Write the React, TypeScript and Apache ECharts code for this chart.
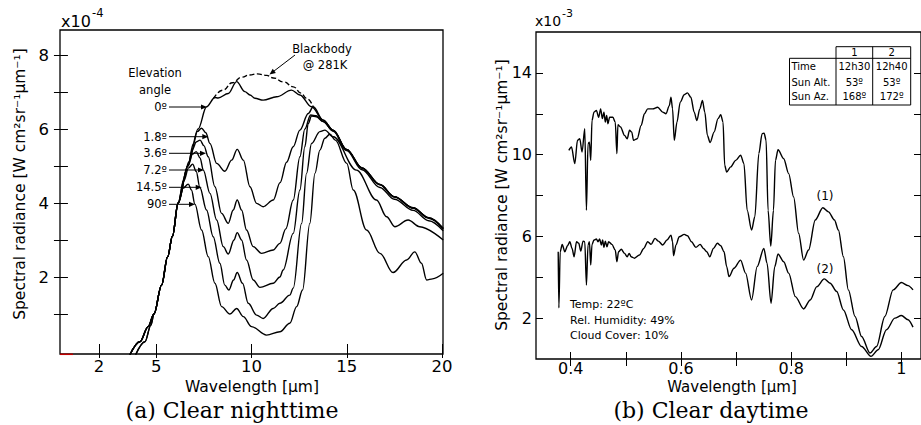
import React, { useEffect, useRef } from "react";
import * as echarts from "echarts";

// ---------- Panel (a): clear nighttime, units x1e-4 ----------
const nightXTicks = [2, 5, 10, 15, 20];
const nightYTicks = [1, 2, 3, 4, 5, 6, 7, 8];
const nightYLabels = [2, 4, 6, 8];

const nightBlackbody: [number, number][] = [
  [8.0, 6.82], [8.5, 7.05], [9.0, 7.25], [9.48, 7.4], [9.9, 7.46], [10.3, 7.49], [10.8, 7.45],
  [11.14, 7.38], [11.7, 7.27], [12.19, 7.14], [12.6, 6.97], [12.89, 6.83], [13.24, 6.6],
];

const night0: [number, number][] = [
  [3.62, -0.1], [4.14, 0.25], [4.58, 0.66], [4.88, 1.0], [5.28, 1.78], [5.6, 2.55], [5.85, 3.1],
  [6.15, 4.0], [6.66, 5.0], [7.2, 6.0], [7.64, 6.6], [8.08, 6.85], [8.25, 6.84], [8.78, 6.96],
  [9.22, 7.28], [9.65, 7.01], [9.92, 6.92], [10.18, 6.83], [10.61, 6.78], [11.32, 6.87],
  [12.1, 7.05], [12.54, 6.92], [13.15, 6.6], [13.76, 6.24], [14.29, 5.97], [14.99, 5.45],
  [15.8, 4.95], [16.74, 4.5], [17.5, 4.17], [18.48, 3.87], [19.3, 3.6], [20.06, 3.31],
];

const night18: [number, number][] = [
  [3.62, -0.1], [4.14, 0.25], [4.58, 0.66], [4.88, 1.0], [5.28, 1.78], [5.6, 2.55], [5.85, 3.1],
  [6.15, 4.0], [6.66, 5.0], [6.95, 5.6], [7.15, 5.93], [7.38, 6.02], [7.6, 5.9], [7.82, 5.61],
  [8.17, 5.07], [8.6, 4.86], [8.96, 5.16], [9.25, 5.45], [9.57, 5.16], [9.92, 4.44], [10.27, 3.99],
  [10.61, 3.9], [11.14, 4.08], [11.5, 4.55], [11.84, 5.1], [12.19, 5.52], [12.54, 5.97],
  [12.98, 6.42], [13.24, 6.6], [13.76, 6.24], [14.29, 5.97], [14.99, 5.45], [15.8, 4.95],
  [16.74, 4.5], [17.5, 4.17], [18.48, 3.87], [19.3, 3.6], [20.06, 3.31],
];

const night36: [number, number][] = [
  [3.62, -0.1], [4.14, 0.25], [4.58, 0.66], [4.88, 1.0], [5.28, 1.78], [5.6, 2.55], [5.85, 3.1],
  [6.15, 4.0], [6.66, 5.0], [6.9, 5.45], [7.1, 5.65], [7.3, 5.7], [7.5, 5.55], [7.73, 5.25],
  [8.08, 4.44], [8.43, 3.72], [8.78, 3.45], [9.04, 3.81], [9.25, 4.08], [9.48, 3.81], [9.74, 3.27],
  [10.09, 2.82], [10.53, 2.64], [11.14, 2.73], [11.49, 2.91], [11.8, 3.3], [12.19, 4.08],
  [12.54, 5.25], [12.8, 6.0], [13.1, 6.38], [13.4, 6.36], [13.76, 6.2], [14.29, 5.95],
  [14.99, 5.44], [15.8, 4.94], [16.74, 4.49], [17.5, 4.16], [18.48, 3.86], [19.3, 3.59], [20.06, 3.3],
];

const night72: [number, number][] = [
  [3.62, -0.1], [4.14, 0.25], [4.58, 0.66], [4.88, 1.0], [5.28, 1.78], [5.6, 2.55], [5.85, 3.1],
  [6.15, 4.0], [6.45, 4.65], [6.7, 5.1], [6.9, 5.32], [7.1, 5.39], [7.3, 5.22], [7.47, 4.89],
  [7.82, 4.26], [8.17, 3.54], [8.52, 2.82], [8.78, 2.62], [9.08, 3.0], [9.25, 3.2], [9.48, 3.0],
  [9.74, 2.46], [10.09, 1.92], [10.44, 1.72], [11.14, 1.83], [11.49, 2.0], [11.66, 2.19],
  [12.19, 3.18], [12.54, 4.35], [12.8, 5.52], [12.98, 6.15], [13.15, 6.35], [13.4, 6.33],
  [13.76, 6.2], [14.29, 5.94], [14.99, 5.42], [15.8, 4.9], [16.74, 4.42], [17.5, 4.1],
  [18.48, 3.8], [19.3, 3.52], [20.06, 3.25],
];

const night145: [number, number][] = [
  [3.92, -0.1], [4.41, 0.25], [4.72, 0.7], [4.88, 1.0], [5.28, 1.78], [5.6, 2.55], [5.85, 3.1],
  [6.15, 4.0], [6.45, 4.6], [6.7, 4.95], [6.91, 5.05], [7.1, 4.85], [7.29, 4.42], [7.64, 3.81],
  [7.99, 3.09], [8.34, 2.37], [8.6, 1.78], [8.81, 1.65], [9.06, 1.92], [9.25, 2.12], [9.53, 1.83],
  [9.83, 1.29], [10.27, 0.97], [10.61, 0.88], [11.14, 1.15], [11.49, 1.29], [12.01, 1.51],
  [12.19, 1.7], [12.63, 3.45], [12.89, 4.8], [13.15, 5.61], [13.59, 5.93], [13.85, 5.97],
  [14.29, 5.79], [15.51, 4.89], [16.56, 4.08], [17.09, 3.63], [17.52, 3.36], [18.22, 3.54],
  [18.83, 3.36], [20.06, 3.0],
];

const night90: [number, number][] = [
  [3.92, -0.1], [4.41, 0.25], [4.72, 0.7], [4.88, 1.0], [5.28, 1.78], [5.6, 2.55], [5.85, 3.1],
  [6.15, 4.0], [6.4, 4.4], [6.68, 4.51], [6.85, 4.35], [7.03, 3.97], [7.38, 3.27], [7.73, 2.55],
  [8.08, 1.83], [8.43, 1.2], [8.87, 1.0], [9.22, 1.15], [9.57, 0.93], [10.0, 0.66], [10.79, 0.43],
  [11.49, 0.52], [12.01, 0.75], [12.37, 1.2], [12.68, 1.65], [13.06, 3.45], [13.33, 4.8],
  [13.59, 5.43], [13.85, 5.75], [14.11, 5.86], [14.4, 5.7], [15.0, 5.07], [15.34, 4.35],
  [16.04, 3.27], [16.74, 2.64], [17.43, 2.12], [18.14, 2.46], [18.57, 2.68], [18.92, 2.37],
  [19.19, 1.92], [19.5, 1.95], [20.06, 2.1],
];

// ---------- Panel (b): clear daytime, units x1e-3 ----------
const dayXTicks = [0.4, 0.5, 0.6, 0.7, 0.8, 0.9, 1.0];
const dayXLabels = [0.4, 0.6, 0.8, 1.0];
const dayYTicks = [2, 4, 6, 8, 10, 12, 14];
const dayYLabels = [2, 6, 10, 14];

const day1: [number, number][] = [
  [0.3966, 10.21], [0.4014, 10.37], [0.4074, 9.56], [0.4123, 10.7], [0.4164, 10.78], [0.4206, 10.13],
  [0.4255, 11.27], [0.4285, 7.28], [0.4314, 10.54], [0.4339, 10.61], [0.4363, 9.72], [0.4386, 11.67],
  [0.4422, 12.08], [0.4466, 12.16], [0.4507, 11.83], [0.4543, 12.24], [0.4574, 11.76], [0.4603, 12.08],
  [0.4628, 11.59], [0.4652, 11.92], [0.4675, 11.51], [0.4706, 11.83], [0.4765, 11.83], [0.4808, 11.59],
  [0.4838, 10.05], [0.4856, 11.46], [0.4904, 11.35], [0.4977, 10.94], [0.5025, 10.78], [0.5067, 11.19],
  [0.5108, 11.1], [0.5139, 10.7], [0.5206, 10.78], [0.5278, 11.43], [0.5338, 12.0], [0.5397, 12.24],
  [0.5488, 12.24], [0.5578, 12.32], [0.5668, 12.08], [0.5729, 12.0], [0.5789, 12.4], [0.5819, 12.81],
  [0.5848, 12.24], [0.5879, 10.7], [0.5928, 11.59], [0.5987, 12.57], [0.606, 12.93], [0.6119, 13.02],
  [0.618, 12.81], [0.624, 12.08], [0.6289, 11.67], [0.6343, 12.24], [0.639, 12.65], [0.6433, 12.08],
  [0.648, 10.94], [0.6529, 10.59], [0.6601, 11.1], [0.6673, 11.76], [0.6722, 11.95], [0.6764, 11.59],
  [0.6794, 9.48], [0.683, 9.15], [0.6903, 9.4], [0.6993, 9.72], [0.7083, 9.97], [0.7143, 9.56],
  [0.7202, 7.28], [0.7282, 6.31], [0.7341, 6.96], [0.7413, 10.05], [0.7473, 11.02], [0.7509, 11.05],
  [0.7545, 10.7], [0.7581, 7.28], [0.763, 5.53], [0.7679, 7.28], [0.7715, 9.72], [0.7762, 10.24],
  [0.7865, 9.8], [0.7955, 9.07], [0.8045, 7.93], [0.8135, 6.15], [0.8226, 4.84], [0.8316, 5.33],
  [0.8437, 6.8], [0.8574, 7.4], [0.8677, 7.2], [0.8785, 6.8], [0.8857, 6.31], [0.8948, 5.0],
  [0.9038, 3.38], [0.9159, 2.08], [0.9278, 1.1], [0.943, 0.29], [0.9549, 0.61], [0.97, 2.08],
  [0.985, 3.38], [1.0, 3.74], [1.0121, 3.59], [1.0211, 3.38],
];

const day2: [number, number][] = [
  [0.3773, 5.25], [0.3785, 2.5], [0.3809, 5.25], [0.3845, 5.61], [0.3893, 5.25], [0.3942, 5.54],
  [0.3984, 5.74], [0.4025, 5.41], [0.4061, 5.0], [0.4105, 5.74], [0.4146, 5.66], [0.4182, 5.28],
  [0.4224, 5.77], [0.4255, 5.74], [0.4285, 3.62], [0.4314, 5.58], [0.4339, 5.74], [0.4363, 4.6],
  [0.4386, 5.61], [0.4422, 5.82], [0.4466, 5.87], [0.4495, 5.74], [0.4525, 5.87], [0.4556, 5.58],
  [0.4579, 5.82], [0.4603, 5.46], [0.4628, 5.77], [0.4657, 5.49], [0.4688, 5.74], [0.4747, 5.61],
  [0.4808, 5.33], [0.4838, 4.76], [0.4868, 5.25], [0.4917, 5.37], [0.4977, 5.17], [0.5025, 5.0],
  [0.5061, 5.17], [0.5097, 5.0], [0.5157, 4.93], [0.5247, 5.09], [0.5325, 5.41], [0.5397, 5.74],
  [0.5458, 5.61], [0.553, 5.9], [0.559, 5.77], [0.5668, 5.58], [0.5747, 5.82], [0.5819, 6.06],
  [0.5848, 5.74], [0.5866, 5.05], [0.591, 5.58], [0.5969, 5.98], [0.606, 6.1], [0.6119, 6.03],
  [0.6191, 5.74], [0.6271, 5.46], [0.6348, 5.61], [0.6408, 5.41], [0.6469, 5.25], [0.6523, 5.0],
  [0.6589, 5.41], [0.6661, 5.66], [0.6722, 5.54], [0.6782, 5.25], [0.683, 4.52], [0.6872, 4.03],
  [0.6962, 4.44], [0.7083, 4.84], [0.7173, 4.2], [0.7282, 2.89], [0.7383, 4.52], [0.7504, 5.41],
  [0.7563, 4.68], [0.7635, 2.73], [0.7702, 4.52], [0.7762, 5.14], [0.7865, 4.76], [0.7955, 4.2],
  [0.8076, 3.05], [0.8226, 2.45], [0.8346, 2.89], [0.8466, 3.54], [0.86, 3.92], [0.8708, 3.71],
  [0.8827, 3.3], [0.8948, 2.4], [0.9098, 1.43], [0.9278, 0.61], [0.9448, 0.13], [0.9579, 0.45],
  [0.9729, 1.43], [0.9881, 2.0], [1.0, 2.13], [1.0121, 1.92], [1.0211, 1.56],
];

// ---------- Texts ----------
const elevationLabels = ["0º", "1.8º", "3.6º", "7.2º", "14.5º", "90º"];
const tableHeader = ["1", "2"];
const tableRows = [
  ["Time", "12h30", "12h40"],
  ["Sun Alt.", "53º", "53º"],
  ["Sun Az.", "168º", "172º"],
];
const conditions = ["Temp: 22ºC", "Rel. Humidity: 49%", "Cloud Cover: 10%"];
const yTitle = "Spectral radiance [W cm²sr⁻¹µm⁻¹]";

const SANS = "DejaVu Sans";
const SERIF = "DejaVu Serif";
const BLACK = "#000";

function text(x: number, y: number, t: string, size: number, align = "center", va = "middle", extra: any = {}) {
  return {
    type: "text",
    x,
    y,
    silent: true,
    ...extra,
    style: { text: t, fontSize: size, fontFamily: extra.fontFamily || SANS, fill: BLACK, align, verticalAlign: va },
  };
}

function seg(x1: number, y1: number, x2: number, y2: number, w = 1, color = BLACK) {
  return { type: "line", silent: true, shape: { x1, y1, x2, y2 }, style: { stroke: color, lineWidth: w } };
}

function arrow(x1: number, y1: number, x2: number, y2: number) {
  const dx = x2 - x1;
  const dy = y2 - y1;
  const L = Math.hypot(dx, dy);
  const ux = dx / L;
  const uy = dy / L;
  const hl = 6;
  const hw = 2.6;
  const bx = x2 - ux * hl;
  const by = y2 - uy * hl;
  return [
    seg(x1, y1, bx + ux * 1, by + uy * 1, 1),
    {
      type: "polygon",
      silent: true,
      shape: { points: [[x2, y2], [bx - uy * hw, by + ux * hw], [bx + uy * hw, by - ux * hw]] },
      style: { fill: BLACK },
    },
  ];
}

function lineSeries(data: [number, number][], ax: number, dashed = false, smooth = 0.35) {
  return {
    type: "line",
    data,
    xAxisIndex: ax,
    yAxisIndex: ax,
    showSymbol: false,
    symbol: "none",
    smooth,
    smoothMonotone: "x",
    silent: true,
    clip: true,
    lineStyle: { color: BLACK, width: 1.4, type: dashed ? [5, 2.5] : "solid" },
  };
}

function valueAxis(grid: number, pos: string, min: number, max: number, ticks: number[], labels: number[] | null, labelExtra: any = {}) {
  return {
    type: "value",
    gridIndex: grid,
    position: pos,
    min,
    max,
    axisLine: { show: false },
    splitLine: { show: false },
    axisTick: { show: true, inside: true, length: 7, customValues: ticks, lineStyle: { color: BLACK, width: 1 } },
    axisLabel: labels
      ? { show: true, customValues: labels, color: BLACK, fontFamily: SANS, fontSize: 16, ...labelExtra }
      : { show: false },
  };
}

export default function App() {
  const ref = useRef<HTMLDivElement>(null);
  useEffect(() => {
    const chart = echarts.init(ref.current!, undefined, { renderer: "svg" });

    const elevY = [107, 136.7, 153.3, 170, 187.3, 204.3];
    const elevTip = [207, 208.3, 206, 204, 201.7, 195];
    const graphics: any[] = [];
    // panel (a) annotations
    graphics.push(text(155, 73, "Elevation", 11.5));
    graphics.push(text(155, 90, "angle", 11.5));
    elevationLabels.forEach((l, i) => {
      graphics.push(text(167, elevY[i], l, 11.5, "right"));
      graphics.push(...arrow(169, elevY[i], elevTip[i], elevY[i]));
    });
    graphics.push(text(322, 48.5, "Blackbody", 11.5));
    graphics.push(text(325, 64.5, "@ 281K", 11.5));
    graphics.push(...arrow(295, 55, 269.5, 74.5));
    // axis multipliers
    graphics.push(text(61, 21, "x10", 16, "left"));
    graphics.push(text(92, 13, "-4", 11.5, "left"));
    graphics.push(text(535, 21, "x10", 14, "left"));
    graphics.push(text(562, 13, "-3", 11, "left"));
    // axis titles
    graphics.push(text(20, 184, yTitle, 15.5, "center", "middle", { rotation: Math.PI / 2 }));
    graphics.push(text(502, 195, yTitle, 15.5, "center", "middle", { rotation: Math.PI / 2 }));
    graphics.push(text(252, 386.5, "Wavelength [µm]", 15.5));
    graphics.push(text(732, 386.5, "Wavelength [µm]", 15));
    // panel captions
    graphics.push(text(232, 410, "(a) Clear nighttime", 22, "center", "middle", { fontFamily: SERIF }));
    graphics.push(text(711, 410, "(b) Clear daytime", 22, "center", "middle", { fontFamily: SERIF }));
    // panel (b) annotations
    graphics.push(text(825, 196, "(1)", 12));
    graphics.push(text(825, 268.5, "(2)", 12));
    const condY = [304, 320, 335];
    conditions.forEach((c, i) => graphics.push(text(570, condY[i], c, 11, "left")));
    // table
    const tl = 789.5, tc1 = 836, tc2 = 872.7, tr = 910.7, tTop = 46.7, tHead = 58.3, tBot = 105;
    graphics.push(seg(tc1, tTop, tr, tTop));
    graphics.push(seg(tl, tHead, tr, tHead));
    graphics.push(seg(tl, tBot, tr, tBot));
    graphics.push(seg(tl, tHead, tl, tBot));
    graphics.push(seg(tc1, tTop, tc1, tBot));
    graphics.push(seg(tc2, tTop, tc2, tBot));
    graphics.push(seg(tr, tTop, tr, tBot));
    const colC = [(tc1 + tc2) / 2, (tc2 + tr) / 2];
    tableHeader.forEach((h, i) => graphics.push(text(colC[i], 52.6, h, 10)));
    const rowY = [66.7, 82, 96.5];
    tableRows.forEach((r, i) => {
      graphics.push(text(791.5, rowY[i], r[0], 10, "left"));
      graphics.push(text(colC[0], rowY[i], r[1], 10));
      graphics.push(text(colC[1], rowY[i], r[2], 10));
    });
    // small red mark at lower-left corner of panel (a)
    graphics.push(seg(60, 354.3, 73, 354.3, 1.5, "#c00000"));

    chart.setOption({
      animation: false,
      backgroundColor: "#fff",
      grid: [
        { left: 60, top: 30, width: 383, height: 324, show: true, borderColor: BLACK, borderWidth: 1.3, backgroundColor: "transparent" },
        { left: 536, top: 32, width: 387, height: 327, show: true, borderColor: BLACK, borderWidth: 1.3, backgroundColor: "transparent" },
      ],
      xAxis: [
        valueAxis(0, "bottom", -0.05, 20.05, nightXTicks, nightXTicks, { margin: 4, fontSize: 16.5 }),
        valueAxis(0, "top", -0.05, 20.05, nightXTicks, null),
        valueAxis(1, "bottom", 0.337, 1.0356, dayXTicks, dayXLabels, {
          margin: 1,
          fontSize: 16,
          formatter: (v: number) => (Math.abs(v - 1) < 1e-6 ? "1" : v.toFixed(1)),
        }),
        valueAxis(1, "top", 0.337, 1.0356, dayXTicks, null),
      ],
      yAxis: [
        valueAxis(0, "left", -0.081, 8.676, nightYTicks, nightYLabels, { margin: 11, fontSize: 16.5 }),
        valueAxis(0, "right", -0.081, 8.676, nightYTicks, null),
        valueAxis(1, "left", 0, 16, dayYTicks, dayYLabels, { margin: 4, fontSize: 16 }),
        valueAxis(1, "right", 0, 16, dayYTicks, null),
      ],
      series: [
        lineSeries(nightBlackbody, 0, true, 0.5),
        lineSeries(night0, 0),
        lineSeries(night18, 0),
        lineSeries(night36, 0),
        lineSeries(night72, 0),
        lineSeries(night145, 0),
        lineSeries(night90, 0),
        lineSeries(day1, 2, false, 0.3),
        lineSeries(day2, 2, false, 0.3),
      ],
      graphic: graphics,
    });
    return () => chart.dispose();
  }, []);
  return (
    <div
      ref={ref}
      style={{ position: "fixed", left: 0, top: 0, width: 921, height: 425, background: "#fff" }}
    />
  );
}
